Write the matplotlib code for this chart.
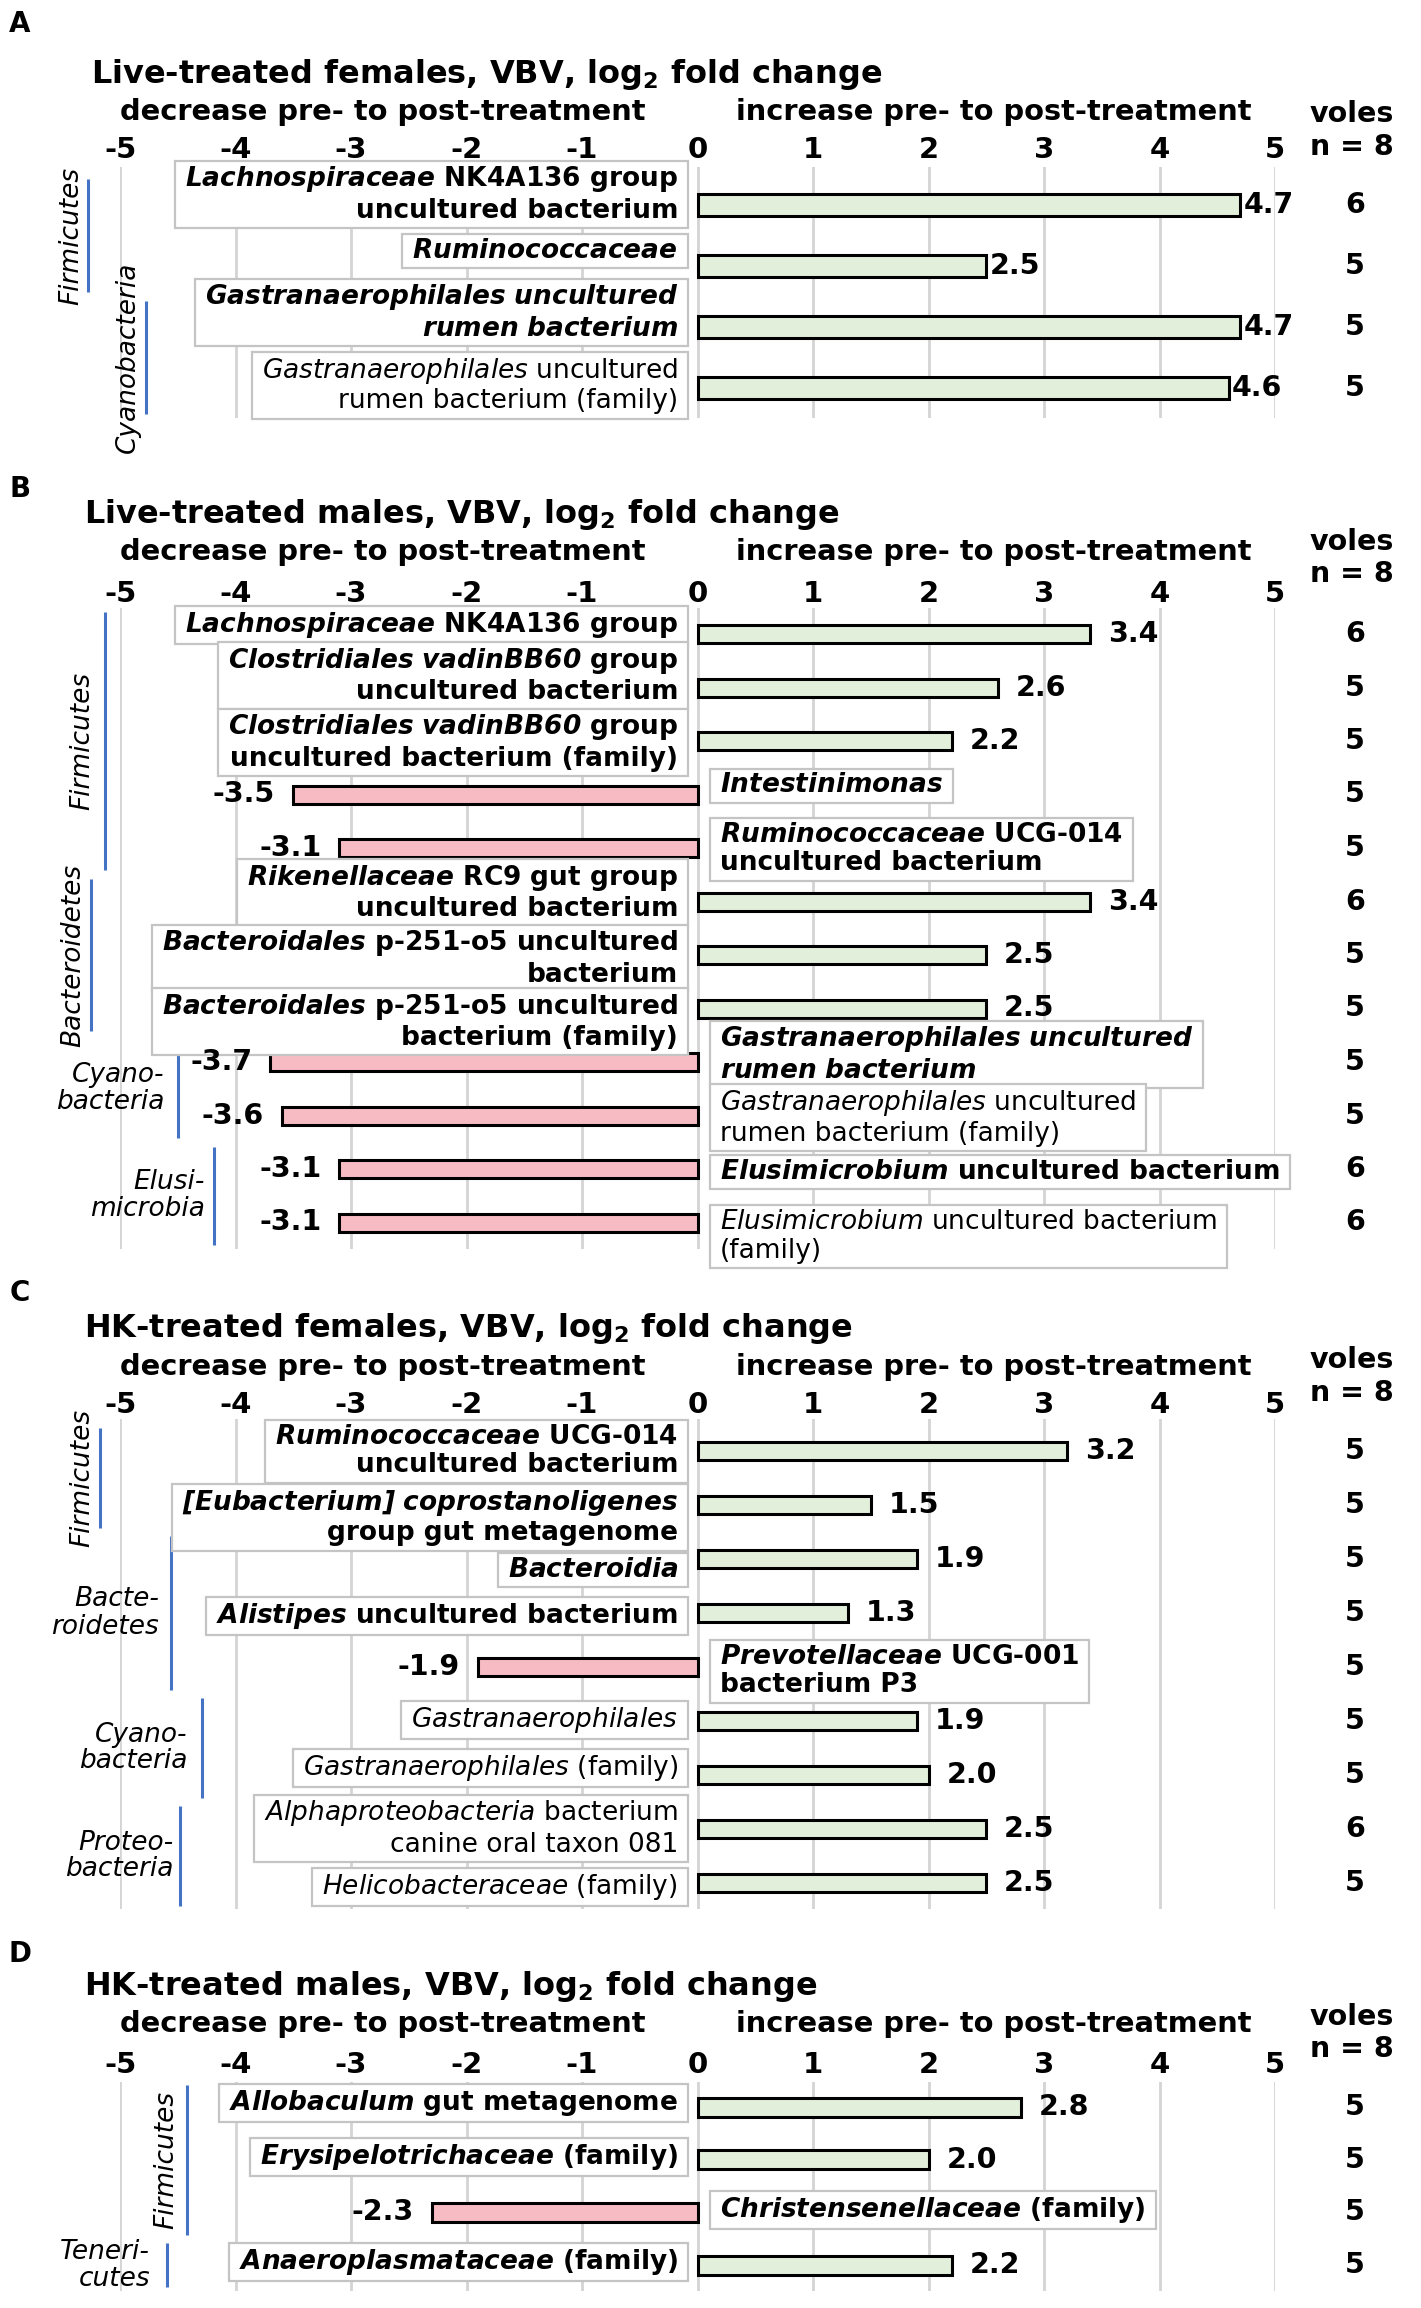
import matplotlib
matplotlib.use("Agg")
import matplotlib.pyplot as plt
from matplotlib.patches import Rectangle
from matplotlib.transforms import IdentityTransform

plt.rcParams["font.family"] = "DejaVu Sans"
plt.rcParams["mathtext.fontset"] = "custom"
plt.rcParams["mathtext.rm"] = "DejaVu Sans"
plt.rcParams["mathtext.it"] = "DejaVu Sans:italic"
plt.rcParams["mathtext.bf"] = "DejaVu Sans:bold"
plt.rcParams["mathtext.bfit"] = "DejaVu Sans:italic:bold"

# ---- data (italic parts of the taxon names are marked with *...*) ----
a_labels = ["*Lachnospiraceae* NK4A136 group\nuncultured bacterium",
            "*Ruminococcaceae*",
            "*Gastranaerophilales uncultured*\n*rumen bacterium*",
            "*Gastranaerophilales* uncultured\nrumen bacterium (family)"]
a_values = [4.7, 2.5, 4.7, 4.6]
a_bold = [True, True, True, False]
a_voles = [6, 5, 5, 5]
a_phyla = [("Firmicutes", 0, 1), ("Cyanobacteria", 2, 3)]

b_labels = ["*Lachnospiraceae* NK4A136 group",
            "*Clostridiales vadinBB60* group\nuncultured bacterium",
            "*Clostridiales vadinBB60* group\nuncultured bacterium (family)",
            "*Intestinimonas*",
            "*Ruminococcaceae* UCG-014\nuncultured bacterium",
            "*Rikenellaceae* RC9 gut group\nuncultured bacterium",
            "*Bacteroidales* p-251-o5 uncultured\nbacterium",
            "*Bacteroidales* p-251-o5 uncultured\nbacterium (family)",
            "*Gastranaerophilales uncultured*\n*rumen bacterium*",
            "*Gastranaerophilales* uncultured\nrumen bacterium (family)",
            "*Elusimicrobium* uncultured bacterium",
            "*Elusimicrobium* uncultured bacterium\n(family)"]
b_values = [3.4, 2.6, 2.2, -3.5, -3.1, 3.4, 2.5, 2.5, -3.7, -3.6, -3.1, -3.1]
b_bold = [True, True, True, True, True, True, True, True, True, False, True, False]
b_voles = [6, 5, 5, 5, 5, 6, 5, 5, 5, 5, 6, 6]
b_phyla = [("Firmicutes", 0, 4), ("Bacteroidetes", 5, 7),
           ("Cyano-\nbacteria", 8, 9), ("Elusi-\nmicrobia", 10, 11)]

c_labels = ["*Ruminococcaceae* UCG-014\nuncultured bacterium",
            "*[Eubacterium] coprostanoligenes*\ngroup gut metagenome",
            "*Bacteroidia*",
            "*Alistipes* uncultured bacterium",
            "*Prevotellaceae* UCG-001\nbacterium P3",
            "*Gastranaerophilales*",
            "*Gastranaerophilales* (family)",
            "*Alphaproteobacteria* bacterium\ncanine oral taxon 081",
            "*Helicobacteraceae* (family)"]
c_values = [3.2, 1.5, 1.9, 1.3, -1.9, 1.9, 2.0, 2.5, 2.5]
c_bold = [True, True, True, True, True, False, False, False, False]
c_voles = [5, 5, 5, 5, 5, 5, 5, 6, 5]
c_phyla = [("Firmicutes", 0, 1), ("Bacte-\nroidetes", 2, 4),
           ("Cyano-\nbacteria", 5, 6), ("Proteo-\nbacteria", 7, 8)]

d_labels = ["*Allobaculum* gut metagenome",
            "*Erysipelotrichaceae* (family)",
            "*Christensenellaceae* (family)",
            "*Anaeroplasmataceae* (family)"]
d_values = [2.8, 2.0, -2.3, 2.2]
d_bold = [True, True, True, True]
d_voles = [5, 5, 5, 5]
d_phyla = [("Firmicutes", 0, 2), ("Teneri-\ncutes", 3, 3)]

titles = ["Live-treated females", "Live-treated males",
          "HK-treated females", "HK-treated males"]
ticks = list(range(-5, 6))

# ---- layout in pixels of the 1421 x 2308 picture ----
W, H = 1421, 2308
ZERO, UNIT = 697.5, 115.5
GREEN, PINK, BLUE = "#e2efda", "#f7bcc3", "#4472c4"

panels = [
    dict(letter="A", title=titles[0], labels=a_labels, values=a_values, bold=a_bold,
         voles=a_voles, phyla=a_phyla, top=167, bottom=418, row0=205, step=61,
         bar_px=22, letter_y=24, title_x=91, title_y=83, sub_y=120, voles_y=122,
         n_y=155, tick_pad=2, gap=3, phylum_x=[(71, 88), (128, 146)],
         label_dy=[-11, -15, -15, -3]),
    dict(letter="B", title=titles[1], labels=b_labels, values=b_values, bold=b_bold,
         voles=b_voles, phyla=b_phyla, top=608, bottom=1249, row0=634, step=53.5,
         bar_px=18, letter_y=489, title_x=84, title_y=523, sub_y=560, voles_y=550,
         n_y=582, tick_pad=0, gap=18,
         phylum_x=[(82, 105), (73, 91), (164, 178), (205, 214)],
         label_dy=[-9, -12, 1, -9, 1, -9, 3, 13, -8, 2, 3, 14]),
    dict(letter="C", title=titles[2], labels=c_labels, values=c_values, bold=c_bold,
         voles=c_voles, phyla=c_phyla, top=1419, bottom=1909, row0=1451, step=54,
         bar_px=18, letter_y=1293, title_x=84, title_y=1337, sub_y=1375, voles_y=1368,
         n_y=1401, tick_pad=0, gap=18,
         phylum_x=[(82, 100), (159, 171), (187, 202), (173, 180)],
         label_dy=[0, 12, 11, 3, 4, -1, -7, -1, 4]),
    dict(letter="D", title=titles[3], labels=d_labels, values=d_values, bold=d_bold,
         voles=d_voles, phyla=d_phyla, top=2082, bottom=2291, row0=2107, step=52.7,
         bar_px=19, letter_y=1954, title_x=84, title_y=1995, sub_y=2032, voles_y=2025,
         n_y=2057, tick_pad=2, gap=18, phylum_x=[(166, 187), (150, 167)],
         label_dy=[-4, -3, -2, -3]),
]


def xd(px):
    return (px - ZERO) / UNIT


def to_math(line, bold):
    # turn *italic* runs into mathtext, the rest stays in the text's own font
    parts = line.split("*")
    out = ""
    for k, p in enumerate(parts):
        if k % 2 == 1 and p:
            cmd = r"\mathbfit" if bold else r"\mathit"
            out += "$" + cmd + "{" + p.replace(" ", r"\ ") + "}$"
        else:
            out += p
    return out


fig = plt.figure(figsize=(W / 100, H / 100), dpi=100)
boxed = []

for p in panels:
    # header texts
    fig.text(20 / W, 1 - p["letter_y"] / H, p["letter"], fontsize=20,
             fontweight="bold", ha="center", va="center")
    fig.text(p["title_x"] / W, 1 - p["title_y"] / H,
             p["title"] + r", VBV, log$_{\mathbf{2}}$ fold change",
             fontsize=23, fontweight="bold", ha="left", va="baseline")
    fig.text(383 / W, 1 - p["sub_y"] / H, "decrease pre- to post-treatment",
             fontsize=20.8, fontweight="bold", ha="center", va="baseline")
    fig.text(994 / W, 1 - p["sub_y"] / H, "increase pre- to post-treatment",
             fontsize=20.8, fontweight="bold", ha="center", va="baseline")
    fig.text(1352 / W, 1 - p["voles_y"] / H, "voles", fontsize=20.5,
             fontweight="bold", ha="center", va="baseline")
    fig.text(1352 / W, 1 - p["n_y"] / H, "n = 8", fontsize=20.5,
             fontweight="bold", ha="center", va="baseline")

    x0, x1 = ZERO - 5 * UNIT, ZERO + 5 * UNIT
    ax = fig.add_axes([x0 / W, 1 - p["bottom"] / H, (x1 - x0) / W,
                       (p["bottom"] - p["top"]) / H])
    ax.set_xlim(-5, 5)
    ax.set_ylim((p["bottom"] - p["row0"]) / p["step"], (p["top"] - p["row0"]) / p["step"])

    rows = list(range(len(p["values"])))
    colors = [GREEN if v > 0 else PINK for v in p["values"]]
    ax.barh(rows, p["values"], height=p["bar_px"] / p["step"], color=colors,
            edgecolor="black", linewidth=2.2, zorder=2)

    ax.set_xticks(ticks)
    ax.set_xticklabels([str(t) for t in ticks], fontsize=21, fontweight="bold")
    ax.xaxis.tick_top()
    ax.tick_params(axis="x", length=0, pad=p["tick_pad"])
    ax.set_yticks([])
    ax.grid(axis="x", color="#d4d4d4", linewidth=2)
    ax.set_axisbelow(True)
    for s in ax.spines.values():
        s.set_visible(False)

    for i, (lab, v, b, n) in enumerate(zip(p["labels"], p["values"], p["bold"], p["voles"])):
        text = "\n".join(to_math(line, b) for line in lab.split("\n"))
        if v > 0:
            dx, ha = -19.5, "right"
        else:
            dx, ha = 22.5, "left"
        ann = ax.annotate(text, xy=(0, i), xytext=(dx, -p["label_dy"][i]),
                          textcoords="offset pixels", ha=ha, va="center",
                          fontsize=19, fontweight="bold" if b else "normal",
                          linespacing=1.15, zorder=5)
        boxed.append((ax, ann))

        g = p["gap"] if v > 0 else -p["gap"]
        ax.annotate(f"{v:.1f}", xy=(v, i), xytext=(g, 0), textcoords="offset pixels",
                    ha="left" if v > 0 else "right", va="center", fontsize=20.5,
                    fontweight="bold", zorder=5)
        ax.text(xd(1355), i, str(n), ha="center", va="center", fontsize=20.5,
                fontweight="bold")

    for (name, r0, r1), (tx, lx) in zip(p["phyla"], p["phylum_x"]):
        ax.plot([xd(lx), xd(lx)], [r0 - 0.42, r1 + 0.42], color=BLUE, linewidth=2.2,
                clip_on=False, solid_capstyle="butt")
        mid = (r0 + r1) / 2
        if "\n" in name:
            ax.text(xd(tx), mid, name, ha="right", va="center", fontsize=19,
                    fontstyle="italic", linespacing=1.05)
        else:
            ax.text(xd(tx), mid, name, ha="center", va="center", fontsize=19,
                    fontstyle="italic", rotation=90)

# white label boxes with grey edges, sized to the drawn text
fig.canvas.draw()
renderer = fig.canvas.get_renderer()
for ax, ann in boxed:
    bb = ann.get_window_extent(renderer)
    ax.add_artist(Rectangle((bb.x0 - 10, bb.y0 - 4), bb.width + 20, bb.height + 8,
                            transform=IdentityTransform(), facecolor="white",
                            edgecolor="#c4c4c4", linewidth=1.6, zorder=4, clip_on=False))

fig.savefig("out.png", dpi=100)
